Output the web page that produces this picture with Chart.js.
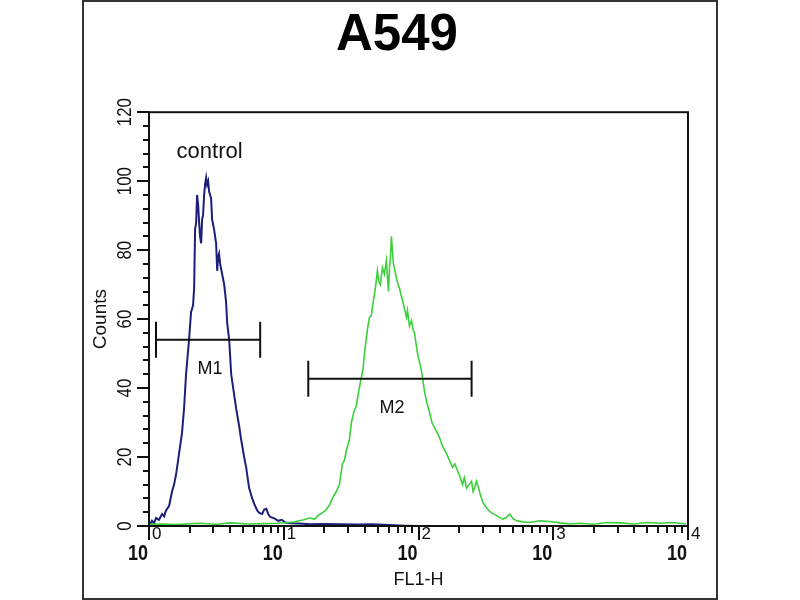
<!DOCTYPE html>
<html><head><meta charset="utf-8">
<script src="https://cdn.jsdelivr.net/npm/chart.js@4"></script>
<style>html,body{margin:0;padding:0;background:#fff}canvas{display:block}</style>
</head><body>
<canvas id="c" width="800" height="600"></canvas>
<script>
// ---- text ----
const chartTitle = 'A549';
const xAxisTitle = 'FL1-H';
const yAxisTitle = 'Counts';
const controlLabel = 'control';
// ---- axes ----
const xDecades = [0, 1, 2, 3, 4];            // log10(FL1-H)
const xTickBase = '10';
const xTickExponents = ['0', '1', '2', '3', '4'];
const yTicks = [0, 20, 40, 60, 80, 100, 120];
const yMinorStep = 4;
// ---- control histogram (blue) ----
const controlLogFL1 = [0.000,0.022,0.037,0.052,0.074,0.097,0.112,0.126,0.149,0.171,0.186,0.201,0.223,0.245,0.260,0.275,0.297,0.312,0.327,0.335,0.342,0.350,0.357,0.365,0.372,0.379,0.387,0.394,0.401,0.409,0.416,0.424,0.431,0.439,0.446,0.461,0.468,0.483,0.498,0.506,0.513,0.520,0.528,0.543,0.558,0.572,0.580,0.595,0.610,0.632,0.647,0.669,0.684,0.706,0.721,0.743,0.766,0.781,0.803,0.818,0.840,0.855,0.870,0.885,0.900,0.930,0.959,0.985,1.011,1.060,1.115,1.200,1.300,1.413,1.550,1.650,1.784,1.900,2.007,3.990];
const controlCounts = [0,1.5,0.8,2.3,1.8,3.5,2.8,4.5,5.8,10,12,15,21,27,34,44,54,62,64,69,86,88,96,93,88,84,82,89,90,96,99,101,99,100,97,95,89,86,82,74,78,79,76,73,70,65,59,54,44,38,34,29,25,20,17,11,8,6.4,4.5,3.8,3.5,4.8,5,3.5,2.6,2.2,1.5,1.8,1,0.8,0.7,0.5,0.6,0.5,0.4,0.5,0.3,0.1,0,0];
// ---- A549 sample histogram (green) ----
const sampleLogFL1 = [0.000,0.100,0.200,0.372,0.500,0.600,0.743,0.850,0.950,1.041,1.080,1.115,1.150,1.190,1.230,1.260,1.286,1.310,1.338,1.361,1.390,1.413,1.435,1.450,1.465,1.487,1.502,1.520,1.539,1.560,1.576,1.590,1.599,1.621,1.636,1.650,1.658,1.680,1.695,1.705,1.717,1.732,1.747,1.762,1.770,1.777,1.785,1.792,1.799,1.806,1.814,1.825,1.836,1.848,1.859,1.870,1.881,1.896,1.911,1.918,1.933,1.948,1.960,1.970,1.993,2.010,2.022,2.045,2.060,2.082,2.100,2.119,2.140,2.156,2.180,2.208,2.230,2.253,2.270,2.290,2.310,2.327,2.340,2.357,2.375,2.394,2.405,2.416,2.430,2.439,2.460,2.476,2.500,2.528,2.555,2.580,2.600,2.625,2.650,2.677,2.700,2.729,2.780,2.825,2.900,2.974,3.050,3.120,3.197,3.300,3.400,3.494,3.600,3.700,3.792,3.880,3.985];
const sampleCounts = [0.5,0.6,0.4,0.8,0.5,0.9,0.6,0.7,0.8,1,1.2,1.5,1.8,2.3,2.0,3.2,3.8,4.5,6,8,10,12,18,19,22,25,30,33,35,40,43,46,50,57,60.5,61,63.5,69,74,71,70,75,73,77,72,68,75,78,84,80,76,74,72,70,69,67,65.5,63,60.5,62.5,58,59.6,57,56,50,47,45,39,36,33,30,28.5,27,25.6,23,21,19,17,18,16,14,12,14,11,12,13,10,11,13,12,9,7,5.5,4.2,3.5,3,2.5,2,2.4,3.5,2.2,1.5,1.2,1,1.5,1.3,0.9,0.6,0.8,0.5,1.0,0.9,0.6,1.0,0.8,1.0,0.6];
// ---- gate markers ----
const markerNames = ['M1', 'M2'];
const markerStartLog = [0.052, 1.182];
const markerEndLog = [0.825, 2.394];
const markerCounts = [54, 42.7];

const navy = '#1c1f7a';
const green = '#3ccf3c';
const ink = '#111111';
const fam = '"Liberation Sans", Arial, Helvetica, sans-serif';

const markerSets = markerNames.map((n, i) => ({
  label: n,
  data: [{x: markerStartLog[i], y: markerCounts[i]}, {x: markerEndLog[i], y: markerCounts[i]}],
  borderColor: ink, borderWidth: 2,
  pointStyle: 'line', pointRotation: 90, pointRadius: 18, pointHoverRadius: 18,
  pointBorderColor: ink, pointBorderWidth: 2, pointBackgroundColor: ink
}));

const overlay = {
  id: 'overlay',
  afterDraw(chart) {
    const {ctx, chartArea: a, scales: {x, y}} = chart;
    ctx.save();
    // outer picture border
    ctx.strokeStyle = '#333'; ctx.lineWidth = 2;
    ctx.strokeRect(83, 1, 634, 598);
    // plot frame
    ctx.strokeStyle = ink; ctx.lineWidth = 2;
    ctx.strokeRect(a.left, a.top, a.right - a.left, a.bottom - a.top);
    // y ticks
    for (let v = yTicks[0]; v <= yTicks[yTicks.length - 1]; v += yMinorStep) {
      const py = Math.round(y.getPixelForValue(v));
      const len = (v % 20 === 0) ? 12 : 6;
      ctx.beginPath(); ctx.moveTo(a.left, py); ctx.lineTo(a.left - len, py); ctx.stroke();
    }
    // x ticks
    xDecades.forEach((d, i) => {
      const px = Math.round(x.getPixelForValue(d));
      ctx.beginPath(); ctx.moveTo(px, a.bottom); ctx.lineTo(px, a.bottom + 14); ctx.stroke();
      if (i < xDecades.length - 1) {
        for (let k = 2; k <= 9; k++) {
          const mx = Math.round(x.getPixelForValue(d + Math.log10(k)));
          ctx.beginPath(); ctx.moveTo(mx, a.bottom); ctx.lineTo(mx, a.bottom + 7); ctx.stroke();
        }
      }
    });
    ctx.fillStyle = ink;
    // y labels (rotated)
    ctx.font = '21px ' + fam; ctx.textAlign = 'center'; ctx.textBaseline = 'middle';
    yTicks.forEach(v => {
      ctx.save(); ctx.translate(125, y.getPixelForValue(v)); ctx.rotate(-Math.PI / 2); ctx.scale(0.8, 1);
      ctx.fillText(String(v), 0, 0); ctx.restore();
    });
    // x labels 10^n
    ctx.textBaseline = 'alphabetic';
    xDecades.forEach((d, i) => {
      const px = x.getPixelForValue(d);
      ctx.save(); ctx.translate(px - 1, 560); ctx.scale(0.82, 1);
      ctx.font = 'bold 22px ' + fam; ctx.textAlign = 'right'; ctx.fillText(xTickBase, 0, 0); ctx.restore();
      ctx.save(); ctx.translate(px + 3, 539);
      ctx.font = '17px ' + fam; ctx.textAlign = 'left'; ctx.fillText(xTickExponents[i], 0, 0); ctx.restore();
    });
    // marker labels
    ctx.font = '18px ' + fam; ctx.textAlign = 'center'; ctx.textBaseline = 'middle';
    markerNames.forEach((n, i) => {
      const mx = (x.getPixelForValue(markerStartLog[i]) + x.getPixelForValue(markerEndLog[i])) / 2;
      ctx.fillText(n, mx + 2, y.getPixelForValue(markerCounts[i]) + 29);
    });
    // control label
    ctx.font = '22px ' + fam;
    ctx.fillText(controlLabel, x.getPixelForValue(0.45), y.getPixelForValue(108.5));
    ctx.restore();
  }
};

new Chart(document.getElementById('c'), {
  type: 'line',
  data: {
    datasets: [
      ...markerSets,
      { label: 'A549', data: sampleLogFL1.map((v, i) => ({x: v, y: sampleCounts[i]})),
        borderColor: green, borderWidth: 1.6, pointRadius: 0, tension: 0 },
      { label: controlLabel, data: controlLogFL1.map((v, i) => ({x: v, y: controlCounts[i]})),
        borderColor: navy, borderWidth: 2, pointRadius: 0, tension: 0 }
    ]
  },
  options: {
    responsive: false, animation: false, events: [],
    layout: { padding: { left: 106, right: 112, top: 0, bottom: 0 } },
    plugins: {
      legend: { display: false }, tooltip: { enabled: false },
      title: { display: true, text: chartTitle, color: '#000',
        font: { family: fam, size: 51, weight: 'bold', lineHeight: 1.2 },
        padding: { top: 5, bottom: 46 } }
    },
    scales: {
      x: { type: 'linear', min: xDecades[0], max: xDecades[xDecades.length - 1],
        grid: { display: false }, border: { display: false }, ticks: { display: false },
        title: { display: true, text: xAxisTitle, color: ink, font: { family: fam, size: 18 }, padding: { top: 10, bottom: 9 } },
        afterFit: s => { s.width = s.width; s.height = 74; } },
      y: { type: 'linear', min: yTicks[0], max: yTicks[yTicks.length - 1],
        grid: { display: false }, border: { display: false }, ticks: { display: false },
        title: { display: true, text: yAxisTitle, color: ink, font: { family: fam, size: 19 }, padding: { top: -17, bottom: 0 } },
        afterFit: s => { s.width = 43; } }
    }
  },
  plugins: [overlay]
});
</script>
</body></html>
